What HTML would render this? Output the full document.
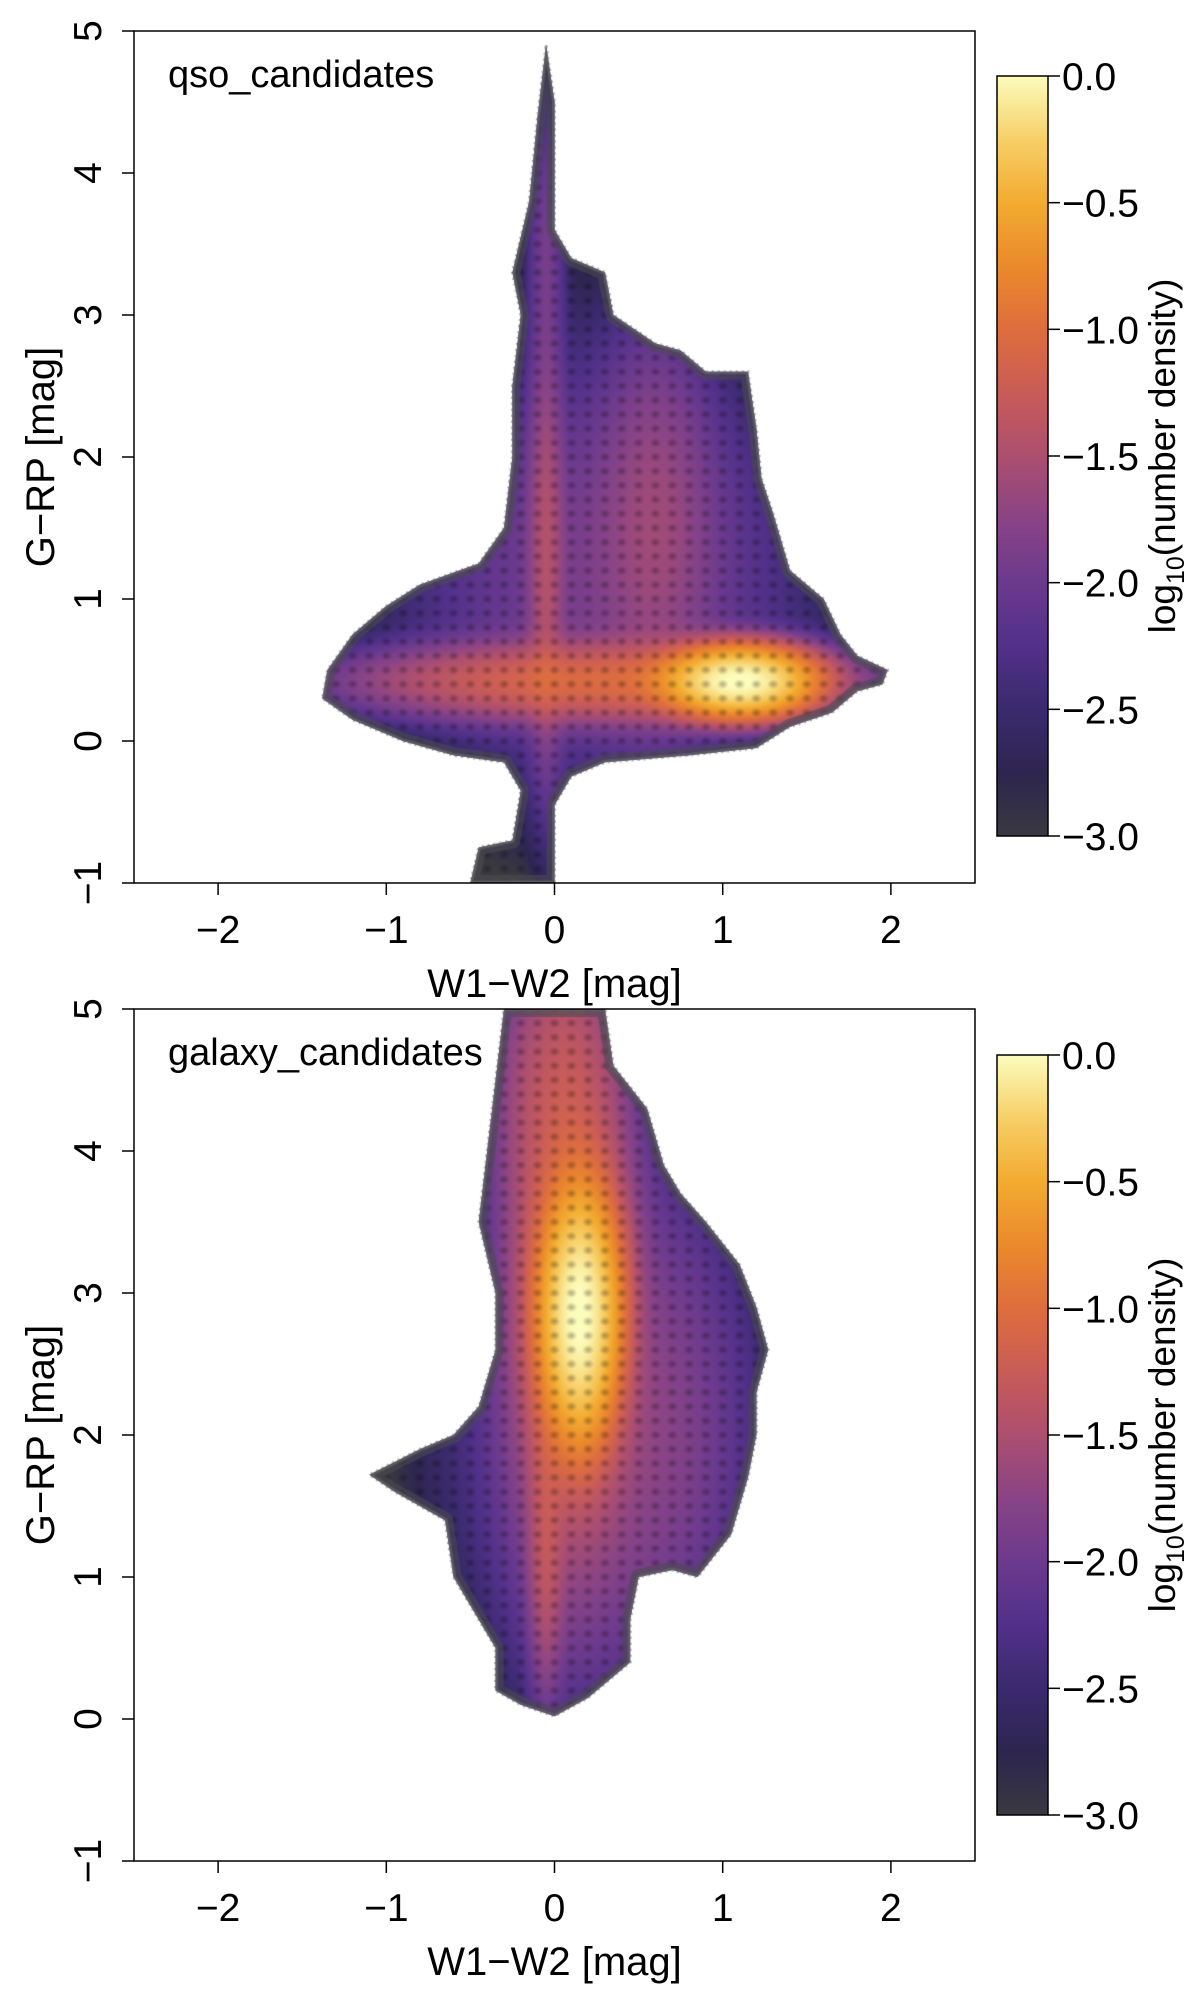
<!DOCTYPE html>
<html><head><meta charset="utf-8">
<style>
html,body{margin:0;padding:0;background:#fff;}
#wrap{position:relative;width:1200px;height:2000px;overflow:hidden;}
canvas{position:absolute;left:0;top:0;}
svg{position:absolute;left:0;top:0;}
text{font-family:"Liberation Sans",Arial,sans-serif;fill:#000;}
</style></head>
<body>
<div id="wrap">
<canvas id="cv" width="1200" height="2000"></canvas>
<svg id="sv" width="1200" height="2000"></svg>
</div>
<script>
// ---- data ----
const xTicks = [-2,-1,0,1,2];
const yTicks = [-1,0,1,2,3,4,5];
const cbTicks = [0.0,-0.5,-1.0,-1.5,-2.0,-2.5,-3.0];
const panelTitles = ["qso_candidates","galaxy_candidates"];
// gaussian components: [x, y, sx, sy, amplitude]
const qsoCompX = [1.1, 0.3, -0.05, 0.6, 0.3, -0.05];
const qsoCompY = [0.42, 0.42, 1.3, 1.6, 1.2, 3.6];
const qsoCompSX = [0.22, 0.8, 0.06, 0.2, 0.75, 0.07];
const qsoCompSY = [0.12, 0.15, 0.9, 0.8, 1.0, 0.6];
const qsoCompA = [1.0, 0.08, 0.025, 0.015, 0.012, 0.01];
const galCompX = [0.15, 0.08, -0.05, 0.2, 0.0, 0.6];
const galCompY = [2.85, 3.2, 1.2, 2.2, 4.5, 2.0];
const galCompSX = [0.12, 0.2, 0.06, 0.55, 0.25, 0.35];
const galCompSY = [0.45, 1.2, 0.6, 1.3, 0.6, 1.0];
const galCompA = [1.0, 0.06, 0.03, 0.01, 0.02, 0.01];
const qsoEdgeX = [-0.05,0.0,0.0,0.1,0.3,0.35,0.6,0.75,0.9,1.15,1.2,1.23,1.3,1.4,1.6,1.7,1.8,1.98,1.95,1.8,1.65,1.4,1.2,0.8,0.3,0.1,0.0,0.0,0.0,-0.5,-0.45,-0.25,-0.2,-0.3,-0.6,-0.9,-1.2,-1.38,-1.35,-1.2,-1.0,-0.8,-0.45,-0.3,-0.25,-0.25,-0.2,-0.25,-0.15,-0.1];
const qsoEdgeY = [4.9,4.5,3.6,3.4,3.3,3.0,2.8,2.75,2.6,2.6,2.2,1.85,1.6,1.2,1.0,0.75,0.6,0.5,0.4,0.35,0.2,0.1,-0.05,-0.1,-0.15,-0.25,-0.45,-0.8,-1.0,-1.0,-0.75,-0.7,-0.35,-0.15,-0.1,0.0,0.15,0.3,0.5,0.75,0.95,1.1,1.25,1.5,2.0,2.5,3.0,3.3,3.8,4.4];
const galEdgeX = [-0.3,0.3,0.35,0.55,0.65,0.75,0.9,1.1,1.2,1.27,1.2,1.2,1.15,1.05,0.85,0.7,0.5,0.45,0.45,0.2,0.0,-0.2,-0.35,-0.35,-0.5,-0.6,-0.65,-0.8,-0.95,-1.1,-0.8,-0.6,-0.45,-0.35,-0.35,-0.45,-0.4,-0.35];
const galEdgeY = [5.0,5.0,4.6,4.3,3.9,3.7,3.5,3.2,2.9,2.6,2.3,2.0,1.7,1.3,1.0,1.05,1.0,0.7,0.4,0.15,0.02,0.1,0.2,0.5,0.8,1.0,1.4,1.5,1.6,1.72,1.9,2.0,2.2,2.6,3.0,3.5,4.0,4.5];
// colormap stops (log10 value, color)
const cmapVal = [-3,-2.75,-2.5,-2.25,-2,-1.75,-1.5,-1.25,-1,-0.75,-0.5,-0.25,0];
const cmapCol = ["#3a3a40","#2e2650","#3b2a6e","#52318a","#6c3a8e","#8a4486","#ad4f70","#c95c58","#de6e3e","#eb8a2c","#f3ab30","#f7d068","#fcfcbc"];

// ---- layout ----
const PL=134, PR=975, PH=852, CBL=997, CBR=1048;
const panels=[{top:31,cbTop:76,cbBot:836},{top:1009,cbTop:1055,cbBot:1815}];
function sx(v){return PL+(v+2.5)/5*(PR-PL);}
function sy(p,v){return p.top+(5-v)/6*PH;}
function hex(c){return [parseInt(c.substr(1,2),16),parseInt(c.substr(3,2),16),parseInt(c.substr(5,2),16)];}
const cmapRGB=cmapCol.map(hex);
function cmap(v){
  if(v<=cmapVal[0])return cmapRGB[0];
  for(let i=1;i<cmapVal.length;i++){if(v<=cmapVal[i]){const t=(v-cmapVal[i-1])/(cmapVal[i]-cmapVal[i-1]);const a=cmapRGB[i-1],b=cmapRGB[i];return [a[0]+(b[0]-a[0])*t,a[1]+(b[1]-a[1])*t,a[2]+(b[2]-a[2])*t];}}
  return cmapRGB[cmapRGB.length-1];
}
const cv=document.getElementById('cv');const ctx=cv.getContext('2d');
function polyPath(p,EX,EY){ctx.beginPath();
  for(let k=0;k<EX.length;k++){const px=sx(EX[k]),py=sy(p,EY[k]);if(k)ctx.lineTo(px,py);else ctx.moveTo(px,py);}
  ctx.closePath();}
function drawPanel(p,CX,CY,SX,SY,A,EX,EY){
  const w=PR-PL,h=PH;
  const off=document.createElement('canvas');off.width=w;off.height=h;
  const oc=off.getContext('2d');const img=oc.createImageData(w,h);const d=img.data;
  for(let j=0;j<h;j++){const y=5-(j+0.5)/h*6;
    for(let i=0;i<w;i++){const x=-2.5+(i+0.5)/w*5;
      let s=0;for(let k=0;k<A.length;k++){const dx=(x-CX[k])/SX[k],dy=(y-CY[k])/SY[k];s+=A[k]*Math.exp(-0.5*(dx*dx+dy*dy));}
      let lv=Math.log10(s+1e-4);if(lv<-3)lv=-3;if(lv>0)lv=0;
      const gx=(x*10)-Math.round(x*10),gy=(y*10)-Math.round(y*10);
      const dd=Math.sqrt(gx*gx+gy*gy);const f=0.7+0.3*Math.min(1,dd/0.35);
      const c=cmap(lv);const o=(j*w+i)*4;
      d[o]=c[0]*f;d[o+1]=c[1]*f;d[o+2]=c[2]*f;d[o+3]=255;}}
  oc.putImageData(img,0,0);
  ctx.save();polyPath(p,EX,EY);ctx.clip();
  ctx.drawImage(off,PL,p.top);
  polyPath(p,EX,EY);ctx.strokeStyle='rgba(75,75,80,0.6)';ctx.lineWidth=16;ctx.lineJoin='round';ctx.stroke();
  polyPath(p,EX,EY);ctx.strokeStyle='rgba(95,95,100,0.8)';ctx.lineWidth=5;ctx.stroke();
  ctx.restore();
  ctx.save();ctx.beginPath();ctx.rect(PL,p.top,PR-PL,PH);ctx.clip();
  polyPath(p,EX,EY);ctx.strokeStyle='rgba(95,95,100,0.5)';ctx.lineWidth=3;ctx.setLineDash([2,4]);ctx.stroke();ctx.restore();
  // colorbar
  for(let y=p.cbTop;y<p.cbBot;y++){const v=-3*(y-p.cbTop)/(p.cbBot-p.cbTop);const c=cmap(v);
    ctx.fillStyle=`rgb(${c[0]|0},${c[1]|0},${c[2]|0})`;ctx.fillRect(CBL,y,CBR-CBL,1);}
}
drawPanel(panels[0],qsoCompX,qsoCompY,qsoCompSX,qsoCompSY,qsoCompA,qsoEdgeX,qsoEdgeY);
drawPanel(panels[1],galCompX,galCompY,galCompSX,galCompSY,galCompA,galEdgeX,galEdgeY);

// ---- SVG axes ----
const NS='http://www.w3.org/2000/svg';const sv=document.getElementById('sv');
function mk(tag,attrs,txt){const e=document.createElementNS(NS,tag);for(const k in attrs)e.setAttribute(k,attrs[k]);if(txt!==undefined)e.textContent=txt;sv.appendChild(e);return e;}
function fmt(v){return (v<0?'\u2212':'')+Math.abs(v);}
function fmt1(v){return (v<0?'\u2212':'')+Math.abs(v).toFixed(1);}
panels.forEach((p,pi)=>{
  const fr=mk('rect',{x:PL,y:p.top,width:PR-PL,height:PH,fill:'none',stroke:'#000','stroke-width':1.5});
  
  
  xTicks.forEach(v=>{
    const t=mk('line',{x1:sx(v),x2:sx(v),y1:p.top+PH,y2:p.top+PH+12,stroke:'#000','stroke-width':1.5});
    
    
    const l=mk('text',{x:sx(v),y:p.top+PH+60,'font-size':39,'text-anchor':'middle'},fmt(v));
    
    
  });
  yTicks.forEach(v=>{
    const t=mk('line',{x1:PL-12,x2:PL,y1:sy(p,v),y2:sy(p,v),stroke:'#000','stroke-width':1.5});
    
    
    const l=mk('text',{x:101,y:sy(p,v),'font-size':39,'text-anchor':'middle',transform:`rotate(-90 101 ${sy(p,v)})`},fmt(v));
    
    
  });
  const xl=mk('text',{x:(PL+PR)/2,y:p.top+PH+114,'font-size':40,'text-anchor':'middle'},'W1\u2212W2 [mag]');
  
  
  const yc=p.top+PH/2;
  const yl=mk('text',{x:54,y:yc,'font-size':40,'text-anchor':'middle',transform:`rotate(-90 54 ${yc})`},'G\u2212RP [mag]');
  
  
  const tt=mk('text',{x:168,y:p.top+56,'font-size':38},panelTitles[pi]);
  
  
  const cb=mk('rect',{x:CBL,y:p.cbTop,width:CBR-CBL,height:p.cbBot-p.cbTop,fill:'none',stroke:'#000','stroke-width':1.5});
  
  
  cbTicks.forEach(v=>{
    const y=p.cbTop+(v/-3)*(p.cbBot-p.cbTop);
    const t=mk('line',{x1:CBR,x2:CBR+12,y1:y,y2:y,stroke:'#000','stroke-width':1.5});
    
    
    const l=mk('text',{x:1062,y:y+14,'font-size':39},fmt1(v));
    
    
  });
  const cy=(p.cbTop+p.cbBot)/2;
  const cl=mk('text',{x:1175,y:cy,'font-size':37,'text-anchor':'middle',transform:`rotate(-90 1175 ${cy})`});
  
  
  const a=document.createElementNS(NS,'tspan');a.textContent='log';cl.appendChild(a);
  const b=document.createElementNS(NS,'tspan');b.setAttribute('font-size','25');b.setAttribute('dy','9');b.textContent='10';cl.appendChild(b);
  const c=document.createElementNS(NS,'tspan');c.setAttribute('dy','-9');c.textContent='(number density)';cl.appendChild(c);
});
</script>
</body></html>
